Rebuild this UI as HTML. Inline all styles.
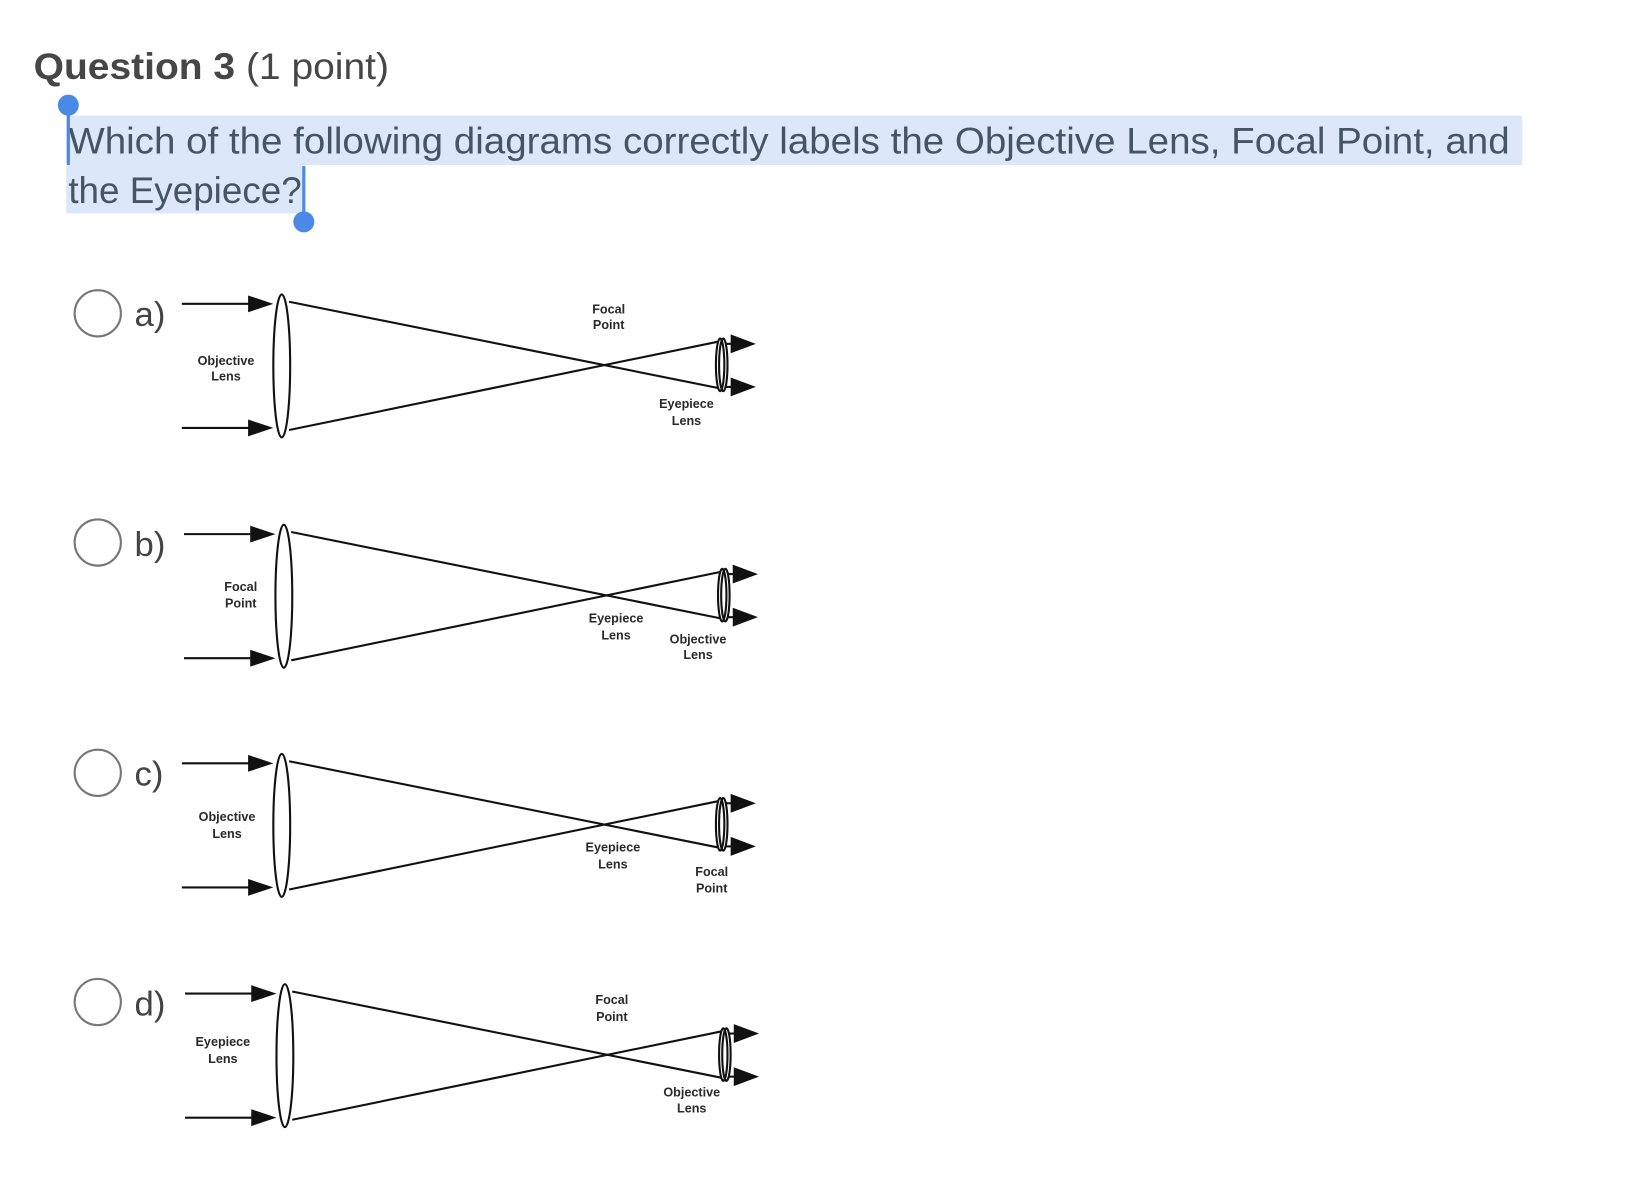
<!DOCTYPE html>
<html><head><meta charset="utf-8"><style>
html,body{margin:0;padding:0;background:#fff;width:1640px;height:1186px;overflow:hidden}
svg{display:block}
.lb{font-family:"Liberation Sans",sans-serif;font-weight:bold;font-size:12px;fill:#2a2a2a;text-anchor:middle}
</style></head><body>
<svg width="1640" height="1186" viewBox="0 0 1560 1128" preserveAspectRatio="none" xmlns="http://www.w3.org/2000/svg">
<defs>
<g id="dg" stroke="#111" stroke-width="2" fill="none">
  <line x1="173" y1="289" x2="240" y2="289"/>
  <polygon points="236,281 260,289 236,297" fill="#111" stroke="none"/>
  <line x1="173" y1="407" x2="240" y2="407"/>
  <polygon points="236,399 260,407 236,415" fill="#111" stroke="none"/>
  <ellipse cx="268" cy="348" rx="8" ry="68"/>
  <line x1="275" y1="287" x2="683" y2="369"/>
  <line x1="275" y1="409" x2="683" y2="325"/>
  <ellipse cx="685" cy="347" rx="4" ry="25"/>
  <ellipse cx="688" cy="347" rx="4" ry="25"/>
  <line x1="690" y1="327" x2="700" y2="327"/>
  <polygon points="695,318 719,327 695,336" fill="#111" stroke="none"/>
  <line x1="690" y1="368" x2="700" y2="368"/>
  <polygon points="695,359 719,368 695,377" fill="#111" stroke="none"/>
</g>
</defs>
<text x="32" y="75" font-family="Liberation Sans, sans-serif" font-size="35" fill="#464646" textLength="338" lengthAdjust="spacingAndGlyphs"><tspan font-weight="bold">Question 3</tspan> (1 point)</text>
<rect x="63" y="110" width="1385" height="47" fill="#dce8f9"/>
<rect x="63" y="157" width="227" height="46" fill="#dce8f9"/>
<text x="65" y="146" font-family="Liberation Sans, sans-serif" font-size="35" fill="#465566" textLength="1371" lengthAdjust="spacingAndGlyphs">Which of the following diagrams correctly labels the Objective Lens, Focal Point, and</text>
<text x="65" y="193" font-family="Liberation Sans, sans-serif" font-size="35" fill="#465566" textLength="222" lengthAdjust="spacingAndGlyphs">the Eyepiece?</text>
<line x1="65" y1="100" x2="65" y2="157" stroke="#4a8ae6" stroke-width="3"/>
<circle cx="65" cy="100" r="10" fill="#4a8ae6"/>
<line x1="289" y1="158" x2="289" y2="210" stroke="#4a8ae6" stroke-width="3"/>
<circle cx="289" cy="211" r="10" fill="#4a8ae6"/>
<g fill="#fff" stroke="#777" stroke-width="2">
<circle cx="93" cy="298" r="22"/><circle cx="93" cy="516" r="22"/><circle cx="93" cy="735" r="22"/><circle cx="93" cy="953" r="22"/>
</g>
<g font-family="Liberation Sans, sans-serif" font-size="33" fill="#444">
<text x="128" y="310">a)</text><text x="128" y="529">b)</text><text x="128" y="747">c)</text><text x="128" y="966">d)</text>
</g>
<use href="#dg"/>
<use href="#dg" transform="translate(2,219)"/>
<use href="#dg" transform="translate(0,437)"/>
<use href="#dg" transform="translate(3,656)"/>
<text class="lb" x="579" y="298">Focal</text><text class="lb" x="579" y="313">Point</text>
<text class="lb" x="215" y="347">Objective</text><text class="lb" x="215" y="362">Lens</text>
<text class="lb" x="653" y="388">Eyepiece</text><text class="lb" x="653" y="404">Lens</text>
<text class="lb" x="229" y="562">Focal</text><text class="lb" x="229" y="578">Point</text>
<text class="lb" x="586" y="592">Eyepiece</text><text class="lb" x="586" y="608">Lens</text>
<text class="lb" x="664" y="612">Objective</text><text class="lb" x="664" y="627">Lens</text>
<text class="lb" x="216" y="781">Objective</text><text class="lb" x="216" y="797">Lens</text>
<text class="lb" x="583" y="810">Eyepiece</text><text class="lb" x="583" y="826">Lens</text>
<text class="lb" x="677" y="833">Focal</text><text class="lb" x="677" y="849">Point</text>
<text class="lb" x="582" y="955">Focal</text><text class="lb" x="582" y="971">Point</text>
<text class="lb" x="212" y="995">Eyepiece</text><text class="lb" x="212" y="1011">Lens</text>
<text class="lb" x="658" y="1043">Objective</text><text class="lb" x="658" y="1058">Lens</text>
</svg>
</body></html>
